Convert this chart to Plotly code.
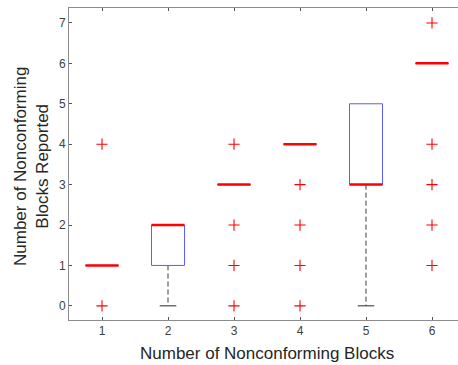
import plotly.graph_objects as go

groups = [1, 2, 3, 4, 5, 6]
q1 = [1, 1, 3, 4, 3, 6]
median = [1, 2, 3, 4, 3, 6]
q3 = [1, 2, 3, 4, 5, 6]
whisker_lo = [1, 0, 3, 4, 0, 6]
whisker_hi = [1, 2, 3, 4, 5, 6]
outliers = [[0, 4], [], [0, 1, 2, 4], [0, 1, 2, 3], [], [1, 2, 3, 4, 7]]
x_ticks = [1, 2, 3, 4, 5, 6]
y_ticks = [0, 1, 2, 3, 4, 5, 6, 7]

HW = 0.25   # half box width
CW = 0.125  # half cap width

fig = go.Figure()

# whiskers (dashed) and caps
wx, wy, cx, cy = [], [], [], []
for g, a, lo, b, hi in zip(groups, q1, whisker_lo, q3, whisker_hi):
    if lo < a:
        wx += [g, g, None]; wy += [a, lo, None]
        cx += [g - CW, g + CW, None]; cy += [lo, lo, None]
    if hi > b:
        wx += [g, g, None]; wy += [b, hi, None]
        cx += [g - CW, g + CW, None]; cy += [hi, hi, None]
fig.add_trace(go.Scatter(x=wx, y=wy, mode="lines",
                         line=dict(color="#3a3a3a", width=1, dash="5px,3px"),
                         hoverinfo="skip", showlegend=False))
fig.add_trace(go.Scatter(x=cx, y=cy, mode="lines",
                         line=dict(color="#2a2a2a", width=1),
                         hoverinfo="skip", showlegend=False))
# boxes
bx, by = [], []
for g, a, b in zip(groups, q1, q3):
    bx += [g - HW, g + HW, g + HW, g - HW, g - HW, None]
    by += [a, a, b, b, a, None]
fig.add_trace(go.Scatter(x=bx, y=by, mode="lines",
                         line=dict(color="#5c5cff", width=1),
                         hoverinfo="skip", showlegend=False))
# medians
mx, my = [], []
for g, m in zip(groups, median):
    mx += [g - HW, g + HW, None]; my += [m, m, None]
fig.add_trace(go.Scatter(x=mx, y=my, mode="lines",
                         line=dict(color="#ff0000", width=2.5),
                         hoverinfo="skip", showlegend=False))
# outliers
ox, oy = [], []
for g, outs in zip(groups, outliers):
    for v in outs:
        ox.append(g); oy.append(v)
fig.add_trace(go.Scatter(x=ox, y=oy, mode="markers",
                         marker=dict(symbol="cross-thin-open", size=8, color="#ff0000",
                                     line=dict(color="#ff0000", width=1.1)),
                         hoverinfo="skip", showlegend=False))

L, T, B = 69, 8, 45
plot_w = 458 - L
fig.update_layout(
    width=458, height=365,
    margin=dict(l=L, r=0, t=T, b=B),
    paper_bgcolor="white", plot_bgcolor="white",
    font=dict(family="Liberation Sans, Arial, sans-serif", color="#404040", size=12),
    xaxis=dict(range=[0.5, 0.5 + plot_w / 66.0], tickvals=x_ticks,
               ticks="inside", ticklen=3, tickcolor="#555555",
               showline=True, linecolor="#8c8c8c", linewidth=1,
               mirror="ticks", showgrid=False, zeroline=False),
    yaxis=dict(range=[-0.35, 7.37], tickvals=y_ticks,
               ticks="inside", ticklen=3, tickcolor="#555555",
               showline=True, linecolor="#8c8c8c", linewidth=1,
               mirror=False, showgrid=False, zeroline=False),
    annotations=[
        dict(text="Number of Nonconforming Blocks", xref="paper", yref="paper",
             x=(267 - L) / plot_w, y=-(353 - 320) / 312.0, xanchor="center", yanchor="middle",
             showarrow=False, font=dict(size=17, color="#262626")),
        dict(text="Number of Nonconforming<br>Blocks Reported", xref="paper", yref="paper",
             x=(31 - L) / plot_w, y=(320 - 167) / 312.0, xanchor="center", yanchor="middle",
             textangle=-90, showarrow=False, font=dict(size=17, color="#262626")),
    ],
)

fig.write_html("out.html")
